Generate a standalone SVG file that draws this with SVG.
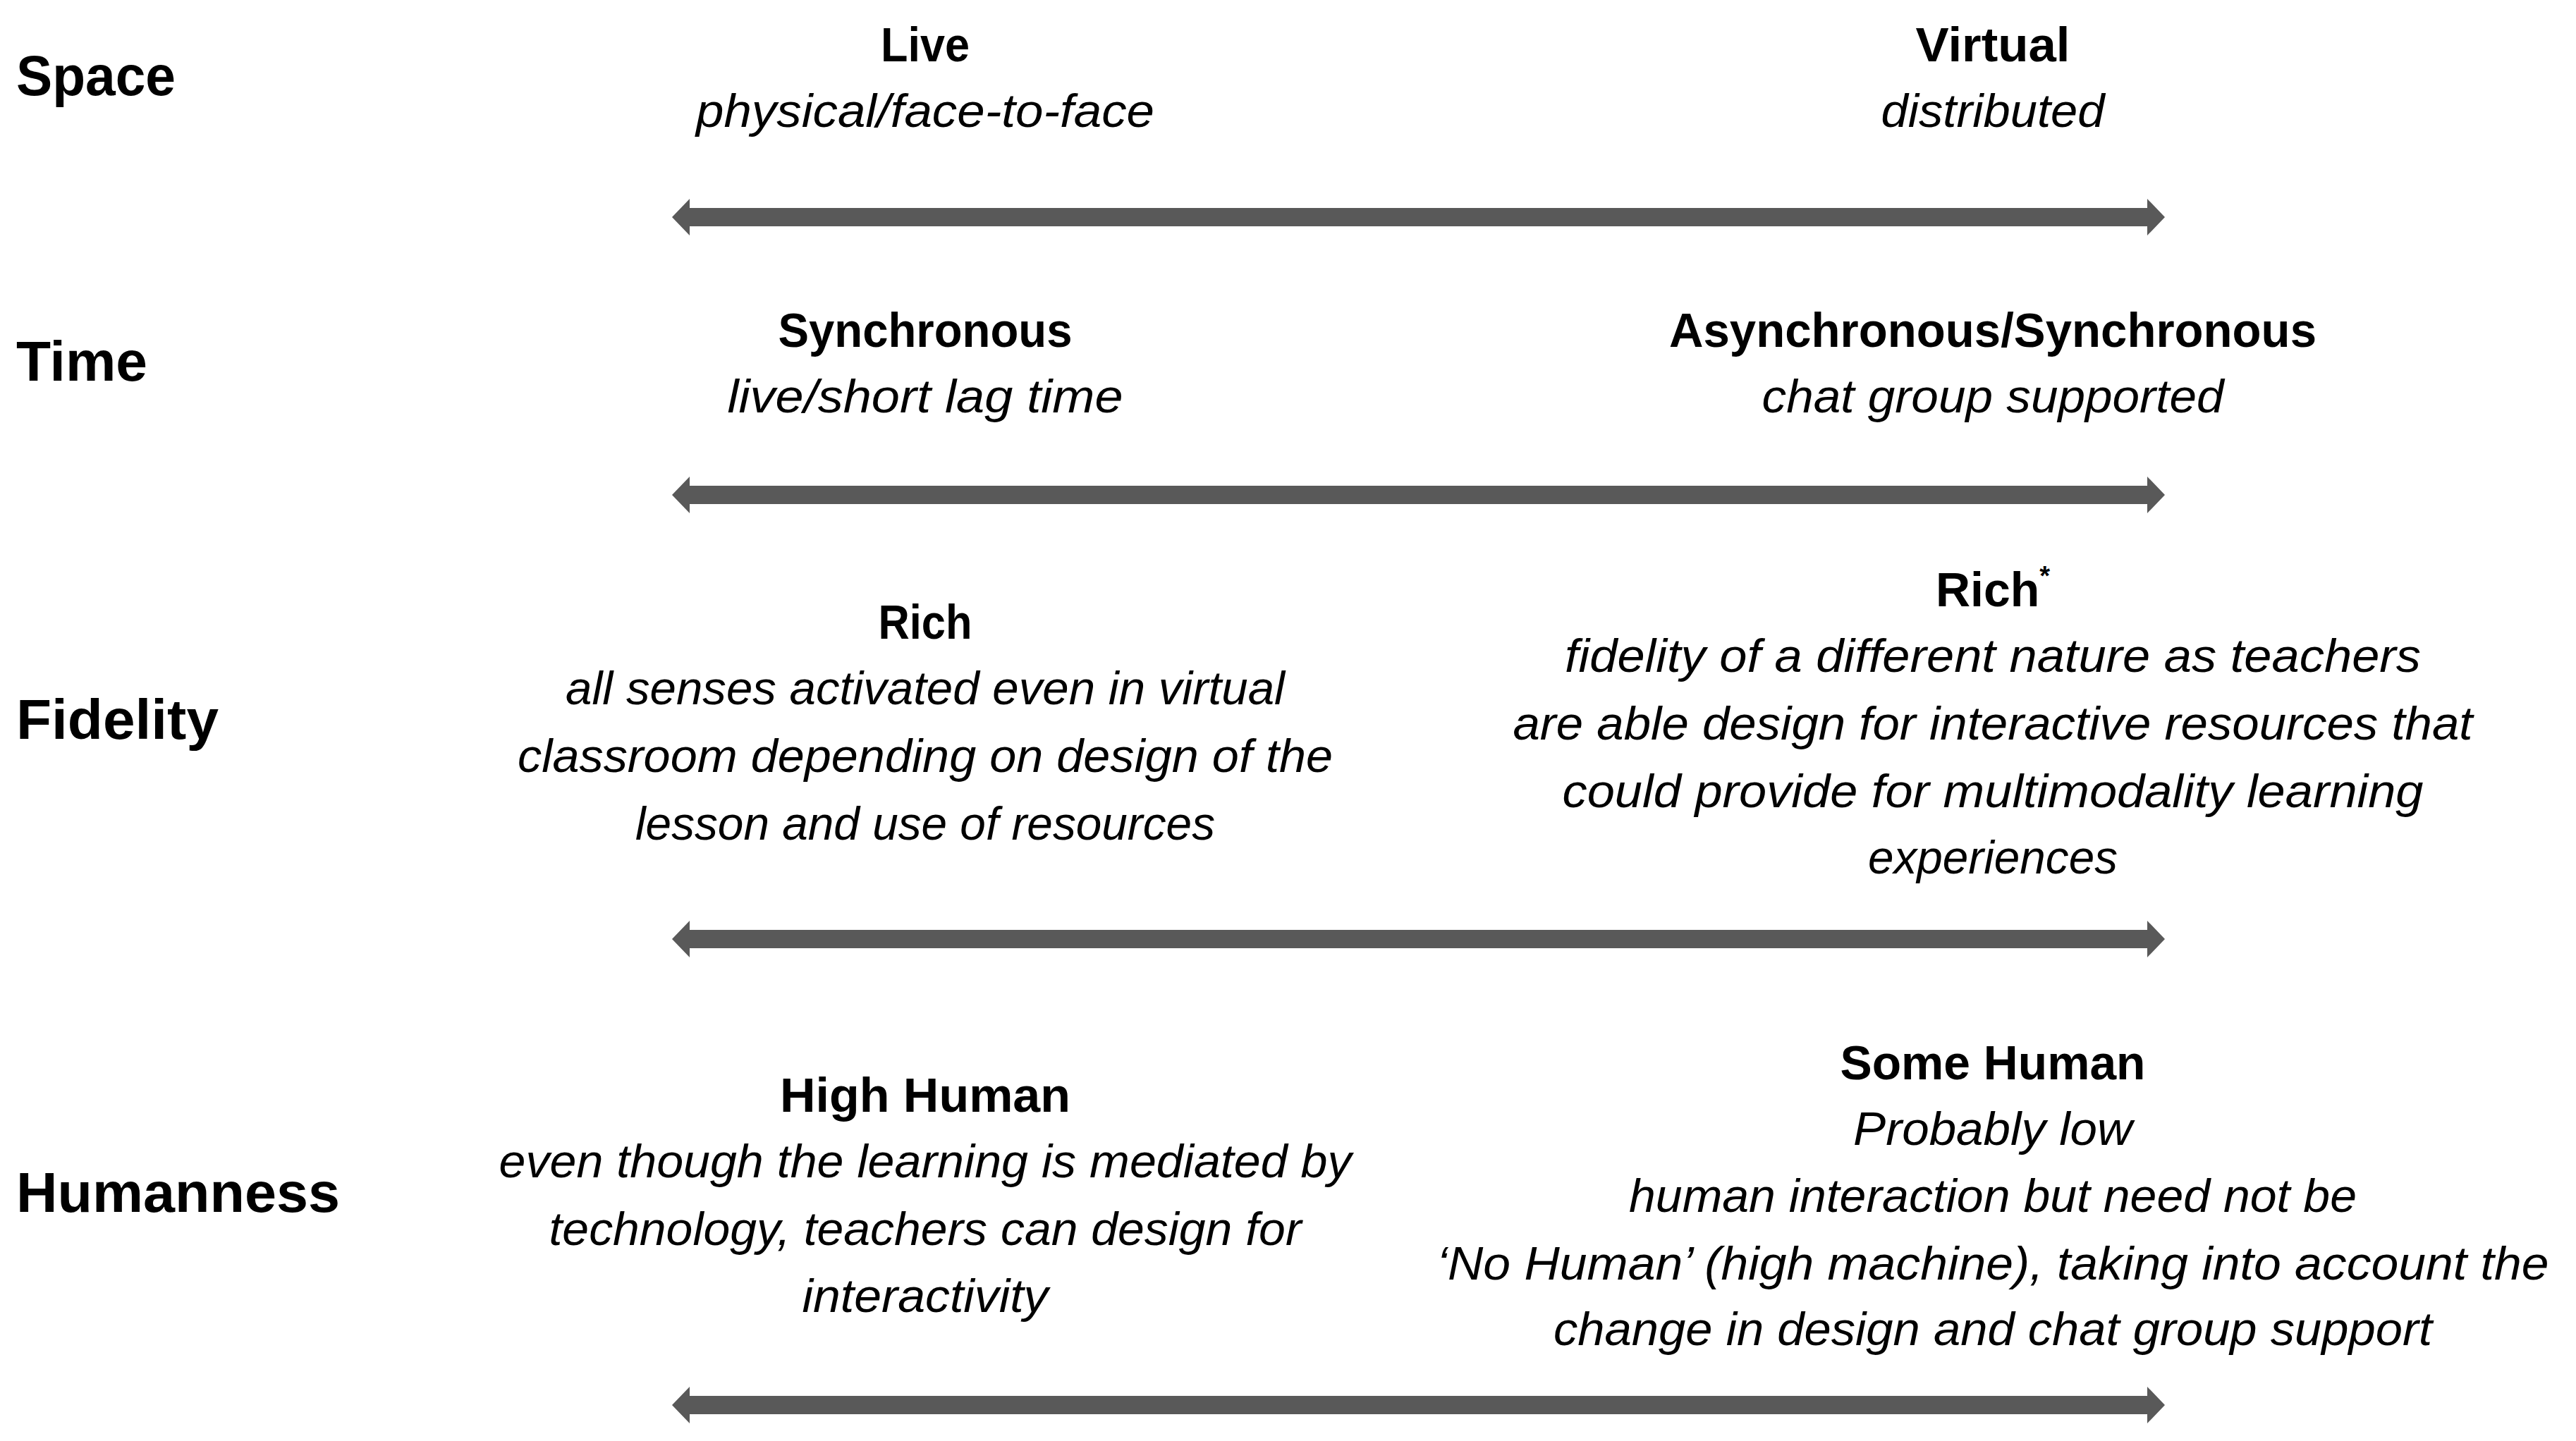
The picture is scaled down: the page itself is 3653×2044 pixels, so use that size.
<svg xmlns="http://www.w3.org/2000/svg" width="3653" height="2044" viewBox="0 0 3653 2044">
<style>
text{font-family:"Liberation Sans","DejaVu Sans",sans-serif;fill:#000}
.lab{font-size:80px;font-weight:bold}
.hd{font-size:68px;font-weight:bold;text-anchor:middle}
.it{font-size:66px;font-style:italic;text-anchor:middle}
.arrow{fill:#595959}
</style>
<defs>
<path id="arr" d="M953,0 L978,-26 L978,-13 L3045,-13 L3045,-26 L3070,0 L3045,26 L3045,13 L978,13 L978,26 Z"/>
</defs>
<g id="connectors" class="arrow">
<use href="#arr" transform="translate(0,308)"/>
<use href="#arr" transform="translate(0,702)"/>
<use href="#arr" transform="translate(0,1332)"/>
<use href="#arr" transform="translate(0,1993)"/>
</g>
<g id="row-labels">
<text id="lab-space" class="lab" x="23" y="135" textLength="226" lengthAdjust="spacingAndGlyphs">Space</text>
<text id="lab-time" class="lab" x="23" y="540" textLength="186" lengthAdjust="spacingAndGlyphs">Time</text>
<text id="lab-fidelity" class="lab" x="23" y="1048" textLength="287" lengthAdjust="spacingAndGlyphs">Fidelity</text>
<text id="lab-humanness" class="lab" x="23" y="1719" textLength="459" lengthAdjust="spacingAndGlyphs">Humanness</text>
</g>
<g id="space-live">
<text class="hd" x="1312" y="87" textLength="126" lengthAdjust="spacingAndGlyphs">Live</text>
<text class="it" x="1312" y="180" textLength="650" lengthAdjust="spacingAndGlyphs">physical/face-to-face</text>
</g>
<g id="space-virtual">
<text class="hd" x="2826" y="87" textLength="219" lengthAdjust="spacingAndGlyphs">Virtual</text>
<text class="it" x="2826" y="180" textLength="317" lengthAdjust="spacingAndGlyphs">distributed</text>
</g>
<g id="time-sync">
<text class="hd" x="1312" y="492" textLength="417" lengthAdjust="spacingAndGlyphs">Synchronous</text>
<text class="it" x="1312" y="585" textLength="561" lengthAdjust="spacingAndGlyphs">live/short lag time</text>
</g>
<g id="time-async">
<text class="hd" x="2826" y="492" textLength="918" lengthAdjust="spacingAndGlyphs">Asynchronous/Synchronous</text>
<text class="it" x="2826" y="585" textLength="655" lengthAdjust="spacingAndGlyphs">chat group supported</text>
</g>
<g id="fidelity-left">
<text class="hd" x="1312" y="906" textLength="133" lengthAdjust="spacingAndGlyphs">Rich</text>
<text class="it" x="1312" y="999" textLength="1020" lengthAdjust="spacingAndGlyphs">all senses activated even in virtual</text>
<text class="it" x="1312" y="1095" textLength="1156" lengthAdjust="spacingAndGlyphs">classroom depending on design of the</text>
<text class="it" x="1312" y="1191" textLength="822" lengthAdjust="spacingAndGlyphs">lesson and use of resources</text>
</g>
<g id="fidelity-right">
<text class="hd" x="2826" y="860">Rich<tspan font-size="38" dy="-30">*</tspan></text>
<text class="it" x="2826" y="953" textLength="1214" lengthAdjust="spacingAndGlyphs">fidelity of a different nature as teachers</text>
<text class="it" x="2826" y="1049" textLength="1361" lengthAdjust="spacingAndGlyphs">are able design for interactive resources that</text>
<text class="it" x="2826" y="1145" textLength="1221" lengthAdjust="spacingAndGlyphs">could provide for multimodality learning</text>
<text class="it" x="2826" y="1239" textLength="354" lengthAdjust="spacingAndGlyphs">experiences</text>
</g>
<g id="human-left">
<text class="hd" x="1312" y="1577" textLength="412" lengthAdjust="spacingAndGlyphs">High Human</text>
<text class="it" x="1312" y="1670" textLength="1209" lengthAdjust="spacingAndGlyphs">even though the learning is mediated by</text>
<text class="it" x="1312" y="1766" textLength="1067" lengthAdjust="spacingAndGlyphs">technology, teachers can design for</text>
<text class="it" x="1312" y="1861" textLength="349" lengthAdjust="spacingAndGlyphs">interactivity</text>
</g>
<g id="human-right">
<text class="hd" x="2826" y="1531" textLength="433" lengthAdjust="spacingAndGlyphs">Some Human</text>
<text class="it" x="2826" y="1624" textLength="396" lengthAdjust="spacingAndGlyphs">Probably low</text>
<text class="it" x="2826" y="1719" textLength="1032" lengthAdjust="spacingAndGlyphs">human interaction but need not be</text>
<text class="it" x="2826" y="1815" textLength="1577" lengthAdjust="spacingAndGlyphs">‘No Human’ (high machine), taking into account the</text>
<text class="it" x="2826" y="1908" textLength="1246" lengthAdjust="spacingAndGlyphs">change in design and chat group support</text>
</g>
</svg>
